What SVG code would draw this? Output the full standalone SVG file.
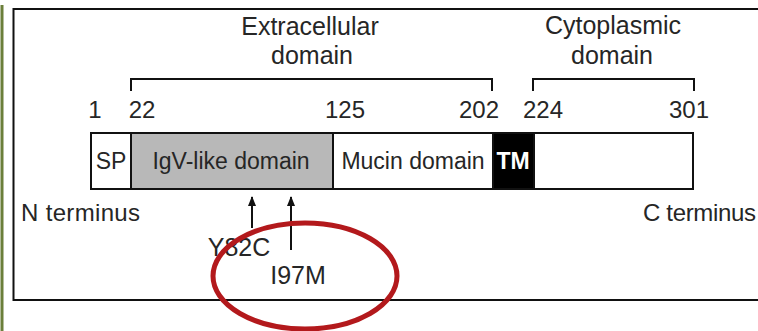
<svg xmlns="http://www.w3.org/2000/svg" width="758" height="331" viewBox="0 0 758 331">
<style>
text{font-family:"Liberation Sans",Arial,sans-serif;font-size:24px;fill:#262626}
.hd{font-size:25px}
.bl{font-size:23px}
.mu{font-size:25px}
.ln{stroke:#111;stroke-width:2;fill:none}
.box{stroke:#111;stroke-width:2}
</style>
<defs>
<marker id="ah" markerWidth="10" markerHeight="8" refX="9" refY="4" orient="auto" markerUnits="userSpaceOnUse">
<path d="M0,0 L10,4 L0,8 Z" fill="#111"/>
</marker>
</defs>
<rect width="758" height="331" fill="#fff"/>
<line x1="2" y1="5" x2="2" y2="331" stroke="#6b7f3a" stroke-width="3"/>
<path d="M770,9 H13.5 V300 H770" fill="none" stroke="#111" stroke-width="2"/>
<g id="extracellular-label">
<text class="hd" x="310" y="35" text-anchor="middle">Extracellular</text>
<text class="hd" x="312" y="64" text-anchor="middle">domain</text>
<path class="ln" d="M131,91 V79 H492 V91"/>
</g>
<g id="cytoplasmic-label">
<text class="hd" x="613" y="34" text-anchor="middle">Cytoplasmic</text>
<text class="hd" x="612" y="64" text-anchor="middle">domain</text>
<path class="ln" d="M533,91 V79 H694 V91"/>
</g>
<g id="positions">
<text x="95" y="118" text-anchor="middle">1</text>
<text x="142" y="118" text-anchor="middle">22</text>
<text x="345" y="118" text-anchor="middle">125</text>
<text x="479" y="118" text-anchor="middle">202</text>
<text x="543" y="118" text-anchor="middle">224</text>
<text x="689" y="118" text-anchor="middle">301</text>
</g>
<g id="sp">
<rect class="box" x="91" y="133" width="40" height="56" fill="#fff"/>
<text class="bl" x="111" y="169" text-anchor="middle">SP</text>
</g>
<g id="igv">
<rect class="box" x="131" y="133" width="202" height="56" fill="#b8b8b8"/>
<text class="bl" x="231" y="169" text-anchor="middle">IgV-like domain</text>
</g>
<g id="mucin">
<rect class="box" x="333" y="133" width="160" height="56" fill="#fff"/>
<text class="bl" x="413" y="169" text-anchor="middle">Mucin domain</text>
</g>
<g id="tm">
<rect class="box" x="493" y="133" width="41" height="56" fill="#000"/>
<text class="bl" x="513" y="169" text-anchor="middle" style="fill:#fff;font-weight:bold">TM</text>
</g>
<g id="cytoplasmic">
<rect class="box" x="534" y="133" width="159" height="56" fill="#fff"/>
</g>
<g id="termini">
<text x="21" y="221" textLength="119">N terminus</text>
<text x="643" y="221" textLength="113">C terminus</text>
</g>
<g id="connectors">
<line class="ln" x1="252" y1="228" x2="252" y2="197" stroke-width="1.5" marker-end="url(#ah)"/>
<line class="ln" x1="291" y1="250" x2="291" y2="197" stroke-width="1.5" marker-end="url(#ah)"/>
</g>
<g id="mutations">
<text class="mu" x="239" y="256" text-anchor="middle">Y82C</text>
<text class="mu" x="298" y="284" text-anchor="middle">I97M</text>
</g>
<ellipse cx="305" cy="276" rx="92" ry="53" fill="none" stroke="#b3191c" stroke-width="5"/>
</svg>
